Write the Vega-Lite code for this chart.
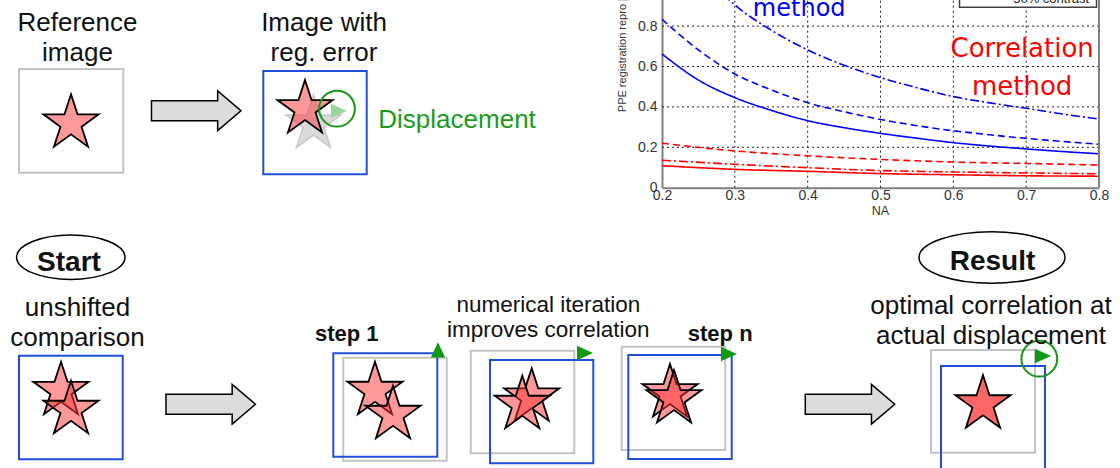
{
  "$schema": "https://vega.github.io/schema/vega-lite/v6.json",
  "width": 1120,
  "height": 468,
  "autosize": {"type": "none"},
  "padding": 0,
  "background": "white",
  "config": {"view": {"stroke": null}, "font": "Liberation Sans"},
  "datasets": {
    "boxes": [
      {"kind": "gray", "x": 19, "y": 69, "x2": 123.3, "y2": 172.7},
      {"kind": "blue", "x": 263.3, "y": 71, "x2": 366.7, "y2": 174.3},
      {"kind": "blue", "x": 19, "y": 355.7, "x2": 122.7, "y2": 459.3},
      {"kind": "blue", "x": 333.3, "y": 353.3, "x2": 437.3, "y2": 456.7},
      {"kind": "gray", "x": 343.3, "y": 357.7, "x2": 446.7, "y2": 460.7},
      {"kind": "gray", "x": 470.7, "y": 350.7, "x2": 574.3, "y2": 453.3},
      {"kind": "blue", "x": 490, "y": 360, "x2": 593.3, "y2": 463.3},
      {"kind": "gray", "x": 621.7, "y": 346.7, "x2": 725.3, "y2": 450},
      {"kind": "blue", "x": 628.3, "y": 355, "x2": 731.7, "y2": 459},
      {"kind": "gray", "x": 931, "y": 350, "x2": 1035, "y2": 452.7},
      {"kind": "blue", "x": 941, "y": 366, "x2": 1045, "y2": 470}
    ],
    "stars": [
      {"kind": "light", "x": 71, "y": 123.3},
      {"kind": "gray", "x": 313.5, "y": 124},
      {"kind": "light", "x": 305, "y": 109},
      {"kind": "light", "x": 61, "y": 390.8},
      {"kind": "light", "x": 71, "y": 409.7},
      {"kind": "light", "x": 375, "y": 390.7},
      {"kind": "light", "x": 393, "y": 414.7},
      {"kind": "light", "x": 531.7, "y": 397.3},
      {"kind": "light", "x": 522.3, "y": 404.7},
      {"kind": "light", "x": 670, "y": 393},
      {"kind": "light", "x": 674, "y": 399},
      {"kind": "solid", "x": 983, "y": 404.2}
    ],
    "arrows": [
      {"x": 196.2, "y": 110.7},
      {"x": 210.7, "y": 404.3},
      {"x": 850, "y": 404.3}
    ],
    "triangles": [
      {"kind": "light", "x": 339, "y": 111},
      {"kind": "up", "x": 438, "y": 350.3},
      {"kind": "right", "x": 585, "y": 353},
      {"kind": "right", "x": 729, "y": 354},
      {"kind": "right", "x": 1043, "y": 356}
    ],
    "circles": [
      {"x": 337, "y": 108.7},
      {"x": 1039.3, "y": 358.7}
    ],
    "ellipses": [
      {"kind": "start", "x": 70.8, "y": 257.2},
      {"kind": "result", "x": 992, "y": 257.5}
    ],
    "texts": [
      {"kind": "t26", "x": 77.5, "y": 30.5, "lines": ["Reference", "image"]},
      {"kind": "t26", "x": 324, "y": 30.5, "lines": ["Image with", "reg. error"]},
      {"kind": "t26", "x": 77.5, "y": 315.5, "lines": ["unshifted", "comparison"]},
      {"kind": "t26", "x": 991, "y": 313.5, "lines": ["optimal correlation at", "actual displacement"]},
      {"kind": "t22", "x": 548.3, "y": 312, "lines": ["numerical iteration", "improves correlation"]},
      {"kind": "b28", "x": 69, "y": 271, "lines": ["Start"]},
      {"kind": "b28", "x": 992.5, "y": 270, "lines": ["Result"]},
      {"kind": "b22", "x": 346.7, "y": 341, "lines": ["step 1"]},
      {"kind": "b22", "x": 720.2, "y": 341, "lines": ["step n"]},
      {"kind": "green", "x": 378.3, "y": 128, "lines": ["Displacement"]}
    ],
    "curves": [
      {"method": "Other method", "contrast": "100% contrast", "NA": 0.2, "PPE": 0.662},
      {"method": "Other method", "contrast": "100% contrast", "NA": 0.25, "PPE": 0.533},
      {"method": "Other method", "contrast": "100% contrast", "NA": 0.3, "PPE": 0.446},
      {"method": "Other method", "contrast": "100% contrast", "NA": 0.35, "PPE": 0.383},
      {"method": "Other method", "contrast": "100% contrast", "NA": 0.4, "PPE": 0.332},
      {"method": "Other method", "contrast": "100% contrast", "NA": 0.45, "PPE": 0.297},
      {"method": "Other method", "contrast": "100% contrast", "NA": 0.5, "PPE": 0.269},
      {"method": "Other method", "contrast": "100% contrast", "NA": 0.55, "PPE": 0.245},
      {"method": "Other method", "contrast": "100% contrast", "NA": 0.6, "PPE": 0.223},
      {"method": "Other method", "contrast": "100% contrast", "NA": 0.65, "PPE": 0.206},
      {"method": "Other method", "contrast": "100% contrast", "NA": 0.7, "PPE": 0.192},
      {"method": "Other method", "contrast": "100% contrast", "NA": 0.75, "PPE": 0.179},
      {"method": "Other method", "contrast": "100% contrast", "NA": 0.8, "PPE": 0.168},
      {"method": "Other method", "contrast": "75% contrast", "NA": 0.2, "PPE": 0.834},
      {"method": "Other method", "contrast": "75% contrast", "NA": 0.25, "PPE": 0.682},
      {"method": "Other method", "contrast": "75% contrast", "NA": 0.3, "PPE": 0.563},
      {"method": "Other method", "contrast": "75% contrast", "NA": 0.35, "PPE": 0.484},
      {"method": "Other method", "contrast": "75% contrast", "NA": 0.4, "PPE": 0.421},
      {"method": "Other method", "contrast": "75% contrast", "NA": 0.45, "PPE": 0.376},
      {"method": "Other method", "contrast": "75% contrast", "NA": 0.5, "PPE": 0.338},
      {"method": "Other method", "contrast": "75% contrast", "NA": 0.55, "PPE": 0.307},
      {"method": "Other method", "contrast": "75% contrast", "NA": 0.6, "PPE": 0.282},
      {"method": "Other method", "contrast": "75% contrast", "NA": 0.65, "PPE": 0.262},
      {"method": "Other method", "contrast": "75% contrast", "NA": 0.7, "PPE": 0.244},
      {"method": "Other method", "contrast": "75% contrast", "NA": 0.75, "PPE": 0.229},
      {"method": "Other method", "contrast": "75% contrast", "NA": 0.8, "PPE": 0.215},
      {"method": "Other method", "contrast": "50% contrast", "NA": 0.2, "PPE": 1.36},
      {"method": "Other method", "contrast": "50% contrast", "NA": 0.25, "PPE": 1.09},
      {"method": "Other method", "contrast": "50% contrast", "NA": 0.3, "PPE": 0.905},
      {"method": "Other method", "contrast": "50% contrast", "NA": 0.35, "PPE": 0.78},
      {"method": "Other method", "contrast": "50% contrast", "NA": 0.4, "PPE": 0.682},
      {"method": "Other method", "contrast": "50% contrast", "NA": 0.45, "PPE": 0.606},
      {"method": "Other method", "contrast": "50% contrast", "NA": 0.5, "PPE": 0.545},
      {"method": "Other method", "contrast": "50% contrast", "NA": 0.55, "PPE": 0.495},
      {"method": "Other method", "contrast": "50% contrast", "NA": 0.6, "PPE": 0.451},
      {"method": "Other method", "contrast": "50% contrast", "NA": 0.65, "PPE": 0.42},
      {"method": "Other method", "contrast": "50% contrast", "NA": 0.7, "PPE": 0.393},
      {"method": "Other method", "contrast": "50% contrast", "NA": 0.75, "PPE": 0.365},
      {"method": "Other method", "contrast": "50% contrast", "NA": 0.8, "PPE": 0.34},
      {"method": "Correlation method", "contrast": "100% contrast", "NA": 0.2, "PPE": 0.109},
      {"method": "Correlation method", "contrast": "100% contrast", "NA": 0.3, "PPE": 0.091},
      {"method": "Correlation method", "contrast": "100% contrast", "NA": 0.4, "PPE": 0.081},
      {"method": "Correlation method", "contrast": "100% contrast", "NA": 0.5, "PPE": 0.07},
      {"method": "Correlation method", "contrast": "100% contrast", "NA": 0.6, "PPE": 0.064},
      {"method": "Correlation method", "contrast": "100% contrast", "NA": 0.7, "PPE": 0.059},
      {"method": "Correlation method", "contrast": "100% contrast", "NA": 0.8, "PPE": 0.057},
      {"method": "Correlation method", "contrast": "75% contrast", "NA": 0.2, "PPE": 0.22},
      {"method": "Correlation method", "contrast": "75% contrast", "NA": 0.3, "PPE": 0.182},
      {"method": "Correlation method", "contrast": "75% contrast", "NA": 0.4, "PPE": 0.158},
      {"method": "Correlation method", "contrast": "75% contrast", "NA": 0.5, "PPE": 0.14},
      {"method": "Correlation method", "contrast": "75% contrast", "NA": 0.6, "PPE": 0.127},
      {"method": "Correlation method", "contrast": "75% contrast", "NA": 0.7, "PPE": 0.12},
      {"method": "Correlation method", "contrast": "75% contrast", "NA": 0.8, "PPE": 0.112},
      {"method": "Correlation method", "contrast": "50% contrast", "NA": 0.2, "PPE": 0.136},
      {"method": "Correlation method", "contrast": "50% contrast", "NA": 0.3, "PPE": 0.116},
      {"method": "Correlation method", "contrast": "50% contrast", "NA": 0.4, "PPE": 0.099},
      {"method": "Correlation method", "contrast": "50% contrast", "NA": 0.5, "PPE": 0.085},
      {"method": "Correlation method", "contrast": "50% contrast", "NA": 0.6, "PPE": 0.078},
      {"method": "Correlation method", "contrast": "50% contrast", "NA": 0.7, "PPE": 0.073},
      {"method": "Correlation method", "contrast": "50% contrast", "NA": 0.8, "PPE": 0.069}
    ],
    "gridx": [{"NA": 0.3}, {"NA": 0.4}, {"NA": 0.5}, {"NA": 0.6}, {"NA": 0.7}],
    "gridy": [{"PPE": 0.2}, {"PPE": 0.4}, {"PPE": 0.6}, {"PPE": 0.8}],
    "frame": [{"NA": 0.8}],
    "legendbox": [{"NA": 0.6085, "NA2": 0.7966, "PPE": 0.893, "PPE2": 1.05}],
    "legendtext": [{"NA": 0.7864, "PPE": 0.914, "lines": ["50% contrast"]}],
    "bluenote": [{"NA": 0.3884, "PPE": 0.85, "lines": ["method"]}],
    "rednote": [{"NA": 0.6945, "PPE": 0.6485, "lines": ["Correlation", "method"]}]
  },
  "layer": [
    {
      "encoding": {
        "x": {"field": "x", "type": "quantitative", "scale": {"domain": [0, 1120], "range": [0, 1120], "nice": false, "zero": false}, "axis": null},
        "y": {"field": "y", "type": "quantitative", "scale": {"domain": [0, 468], "range": [0, 468], "nice": false, "zero": false}, "axis": null}
      },
      "layer": [
        {
          "data": {"name": "boxes"},
          "transform": [{"filter": "datum.kind === 'gray'"}],
          "mark": {"type": "rect", "filled": false, "stroke": "#c4c4c4", "strokeWidth": 2},
          "encoding": {"x2": {"field": "x2"}, "y2": {"field": "y2"}}
        },
        {
          "data": {"name": "boxes"},
          "transform": [{"filter": "datum.kind === 'blue'"}],
          "mark": {"type": "rect", "filled": false, "stroke": "#1f4fd9", "strokeWidth": 2},
          "encoding": {"x2": {"field": "x2"}, "y2": {"field": "y2"}}
        },
        {
          "data": {"name": "stars"},
          "transform": [{"filter": "datum.kind === 'gray'"}],
          "mark": {"type": "point", "shape": "M0,-1L0.2245,-0.309L0.9511,-0.309L0.3633,0.118L0.5878,0.809L0,0.382L-0.5878,0.809L-0.3633,0.118L-0.9511,-0.309L-0.2245,-0.309Z", "size": 3364, "filled": true, "fill": "#dadada", "stroke": "#c8c8c8", "strokeWidth": 1.5, "opacity": 1}
        },
        {
          "data": {"name": "stars"},
          "transform": [{"filter": "datum.kind === 'light'"}],
          "mark": {"type": "point", "shape": "M0,-1L0.2245,-0.309L0.9511,-0.309L0.3633,0.118L0.5878,0.809L0,0.382L-0.5878,0.809L-0.3633,0.118L-0.9511,-0.309L-0.2245,-0.309Z", "size": 3364, "filled": true, "fill": "#ff3333", "fillOpacity": 0.5, "stroke": "black", "strokeWidth": 1.8, "opacity": 1}
        },
        {
          "data": {"name": "stars"},
          "transform": [{"filter": "datum.kind === 'solid'"}],
          "mark": {"type": "point", "shape": "M0,-1L0.2245,-0.309L0.9511,-0.309L0.3633,0.118L0.5878,0.809L0,0.382L-0.5878,0.809L-0.3633,0.118L-0.9511,-0.309L-0.2245,-0.309Z", "size": 3364, "filled": true, "fill": "#ff6666", "stroke": "black", "strokeWidth": 1.8, "opacity": 1}
        },
        {
          "data": {"name": "arrows"},
          "mark": {"type": "point", "shape": "M-1,-0.222L0.48,-0.222L0.48,-0.444L1,0L0.48,0.444L0.48,0.222L-1,0.222Z", "size": 8000, "filled": true, "fill": "#dcdcdc", "stroke": "black", "strokeWidth": 1.5, "opacity": 1}
        },
        {
          "data": {"name": "triangles"},
          "transform": [{"filter": "datum.kind === 'light'"}],
          "mark": {"type": "point", "shape": "M-1,-0.9L1,0L-1,0.9Z", "size": 256, "filled": true, "fill": "#99d699", "strokeWidth": 0, "opacity": 1}
        },
        {
          "data": {"name": "triangles"},
          "transform": [{"filter": "datum.kind === 'right'"}],
          "mark": {"type": "point", "shape": "M-1,-0.9L1,0L-1,0.9Z", "size": 256, "filled": true, "fill": "#119a11", "strokeWidth": 0, "opacity": 1}
        },
        {
          "data": {"name": "triangles"},
          "transform": [{"filter": "datum.kind === 'up'"}],
          "mark": {"type": "point", "shape": "M0,-1L0.9,0.9L-0.9,0.9Z", "size": 256, "filled": true, "fill": "#119a11", "strokeWidth": 0, "opacity": 1}
        },
        {
          "data": {"name": "circles"},
          "mark": {"type": "point", "shape": "circle", "size": 1280, "filled": false, "stroke": "#139913", "strokeWidth": 2, "opacity": 1}
        },
        {
          "data": {"name": "ellipses"},
          "transform": [{"filter": "datum.kind === 'start'"}],
          "mark": {"type": "point", "shape": "M1,0C1,0.2264 0.5523,0.41 0,0.41C-0.5523,0.41 -1,0.2264 -1,0C-1,-0.2264 -0.5523,-0.41 0,-0.41C0.5523,-0.41 1,-0.2264 1,0Z", "size": 11751, "filled": false, "stroke": "black", "strokeWidth": 1.5, "opacity": 1}
        },
        {
          "data": {"name": "ellipses"},
          "transform": [{"filter": "datum.kind === 'result'"}],
          "mark": {"type": "point", "shape": "M1,0C1,0.1944 0.5523,0.352 0,0.352C-0.5523,0.352 -1,0.1944 -1,0C-1,-0.1944 -0.5523,-0.352 0,-0.352C0.5523,-0.352 1,-0.1944 1,0Z", "size": 21316, "filled": false, "stroke": "black", "strokeWidth": 1.5, "opacity": 1}
        },
        {
          "data": {"name": "texts"},
          "transform": [{"filter": "datum.kind === 't26'"}],
          "mark": {"type": "text", "font": "Liberation Sans", "fontSize": 26, "align": "center", "baseline": "alphabetic", "lineHeight": 30.5, "color": "#111111"},
          "encoding": {"text": {"field": "lines"}}
        },
        {
          "data": {"name": "texts"},
          "transform": [{"filter": "datum.kind === 't22'"}],
          "mark": {"type": "text", "font": "Liberation Sans", "fontSize": 22.5, "align": "center", "baseline": "alphabetic", "lineHeight": 25, "color": "#111111"},
          "encoding": {"text": {"field": "lines"}}
        },
        {
          "data": {"name": "texts"},
          "transform": [{"filter": "datum.kind === 'b28'"}],
          "mark": {"type": "text", "font": "Liberation Sans", "fontSize": 28, "fontWeight": "bold", "align": "center", "baseline": "alphabetic", "color": "#111111"},
          "encoding": {"text": {"field": "lines"}}
        },
        {
          "data": {"name": "texts"},
          "transform": [{"filter": "datum.kind === 'b22'"}],
          "mark": {"type": "text", "font": "Liberation Sans", "fontSize": 22, "fontWeight": "bold", "align": "center", "baseline": "alphabetic", "color": "#111111"},
          "encoding": {"text": {"field": "lines"}}
        },
        {
          "data": {"name": "texts"},
          "transform": [{"filter": "datum.kind === 'green'"}],
          "mark": {"type": "text", "font": "Liberation Sans", "fontSize": 26, "align": "left", "baseline": "alphabetic", "color": "#1a9c1a"},
          "encoding": {"text": {"field": "lines"}}
        }
      ]
    },
    {
      "layer": [
        {
          "data": {"name": "gridx"},
          "mark": {"type": "rule", "stroke": "#222222", "strokeWidth": 1, "strokeDash": [2, 3], "clip": true},
          "encoding": {
            "x": {"field": "NA", "type": "quantitative", "scale": {"domain": [0.2, 0.8], "range": [662, 1099], "nice": false, "zero": false}},
            "y": {"datum": 0, "type": "quantitative", "scale": {"domain": [0, 1], "range": [187.7, -14.3], "nice": false, "zero": false}},
            "y2": {"datum": 1}
          }
        },
        {
          "data": {"name": "gridy"},
          "mark": {"type": "rule", "stroke": "#222222", "strokeWidth": 1, "strokeDash": [2, 3]},
          "encoding": {
            "x": {"datum": 0.2, "type": "quantitative"},
            "x2": {"datum": 0.8},
            "y": {"field": "PPE", "type": "quantitative"}
          }
        },
        {
          "data": {"name": "curves"},
          "mark": {"type": "line", "clip": true, "strokeWidth": 1.6, "interpolate": "monotone"},
          "encoding": {
            "x": {
              "field": "NA", "type": "quantitative",
              "axis": {
                "orient": "bottom", "offset": -280.3, "values": [0.2, 0.3, 0.4, 0.5, 0.6, 0.7, 0.8], "format": ".1f",
                "grid": false, "ticks": false, "tickSize": 0, "domainColor": "#808080", "domainWidth": 2,
                "labelFont": "Liberation Sans", "labelFontSize": 14, "labelColor": "#333333", "labelPadding": 1,
                "labelFlush": false, "labelOverlap": false,
                "title": "NA", "titleFont": "Liberation Sans", "titleFontSize": 12.5, "titleFontWeight": "normal", "titleColor": "#333333",
                "titleX": 880, "titleY": 26.5, "titleBaseline": "alphabetic", "titleAlign": "center"
              }
            },
            "y": {
              "field": "PPE", "type": "quantitative",
              "axis": {
                "orient": "left", "offset": -662, "values": [0, 0.2, 0.4, 0.6, 0.8], "format": "~g",
                "grid": false, "ticks": false, "tickSize": 0, "domainColor": "#808080", "domainWidth": 2,
                "labelFont": "Liberation Sans", "labelFontSize": 14, "labelColor": "#333333", "labelPadding": 5,
                "labelFlush": false, "labelOverlap": false,
                "title": "PPE registration repro [nm]", "titleFont": "Liberation Sans", "titleFontSize": 11, "titleFontWeight": "normal", "titleColor": "#333333",
                "titleAngle": 270, "titleAlign": "left", "titleBaseline": "alphabetic", "titleX": -36.3, "titleY": 111.7
              }
            },
            "color": {"field": "method", "type": "nominal", "scale": {"domain": ["Other method", "Correlation method"], "range": ["#0000ff", "#ff0000"]}, "legend": null},
            "strokeDash": {"field": "contrast", "type": "nominal", "scale": {"domain": ["100% contrast", "75% contrast", "50% contrast"], "range": [[1, 0], [7, 4], [9, 3, 2, 3]]}, "legend": null},
            "detail": {"field": "contrast", "type": "nominal"}
          }
        },
        {
          "data": {"name": "frame"},
          "mark": {"type": "rule", "stroke": "#808080", "strokeWidth": 2, "clip": true},
          "encoding": {
            "x": {"field": "NA", "type": "quantitative"},
            "y": {"datum": 0},
            "y2": {"datum": 1}
          }
        },
        {
          "data": {"name": "legendbox"},
          "mark": {"type": "rect", "fill": "white", "stroke": "#404040", "strokeWidth": 1.5, "clip": true},
          "encoding": {
            "x": {"field": "NA", "type": "quantitative"},
            "x2": {"field": "NA2"},
            "y": {"field": "PPE", "type": "quantitative"},
            "y2": {"field": "PPE2"}
          }
        },
        {
          "data": {"name": "legendtext"},
          "mark": {"type": "text", "font": "Liberation Sans", "fontSize": 13, "align": "right", "baseline": "alphabetic", "color": "#222222"},
          "encoding": {
            "x": {"field": "NA", "type": "quantitative"},
            "y": {"field": "PPE", "type": "quantitative"},
            "text": {"field": "lines"}
          }
        },
        {
          "data": {"name": "bluenote"},
          "mark": {"type": "text", "font": "DejaVu Sans", "fontSize": 24, "align": "center", "baseline": "alphabetic", "color": "#0000ff"},
          "encoding": {
            "x": {"field": "NA", "type": "quantitative"},
            "y": {"field": "PPE", "type": "quantitative"},
            "text": {"field": "lines"}
          }
        },
        {
          "data": {"name": "rednote"},
          "mark": {"type": "text", "font": "DejaVu Sans", "fontSize": 26, "align": "center", "baseline": "alphabetic", "lineHeight": 38.3, "color": "#ff0000"},
          "encoding": {
            "x": {"field": "NA", "type": "quantitative"},
            "y": {"field": "PPE", "type": "quantitative"},
            "text": {"field": "lines"}
          }
        }
      ]
    }
  ],
  "resolve": {"scale": {"x": "independent", "y": "independent"}}
}
